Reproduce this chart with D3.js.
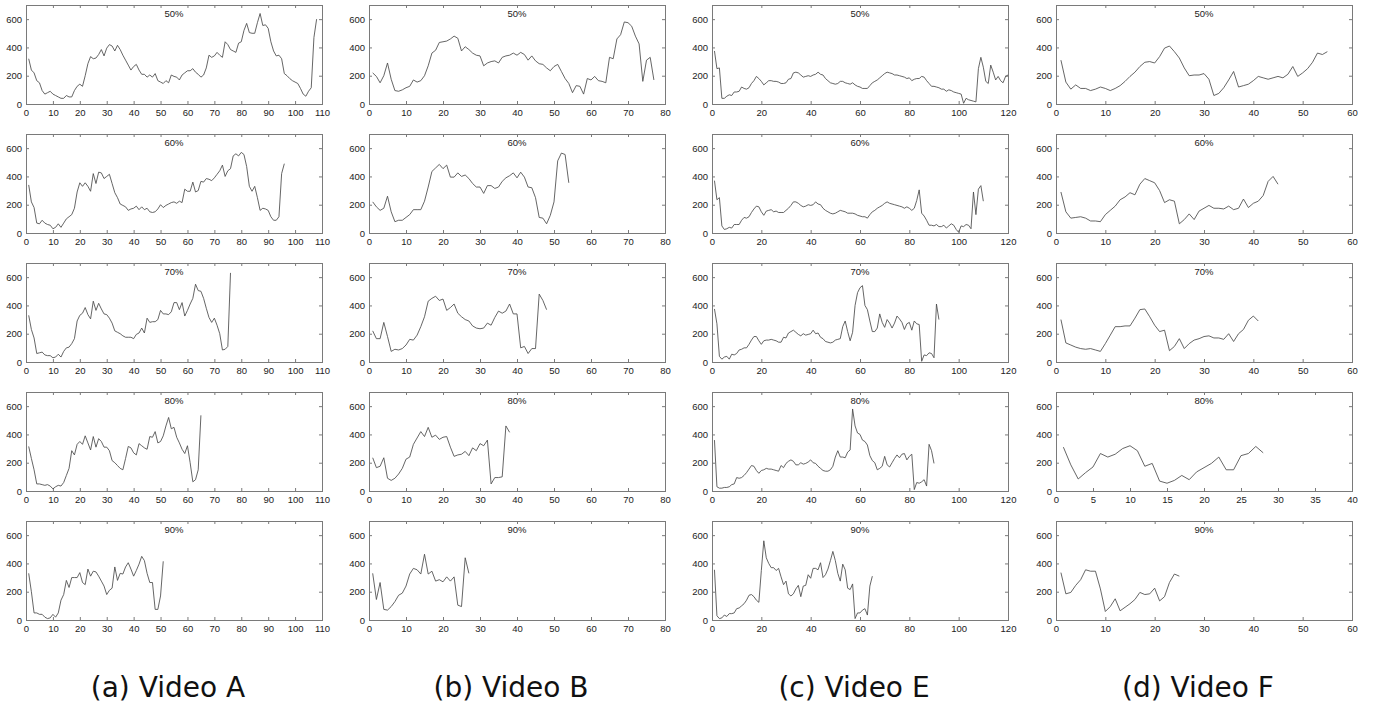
<!DOCTYPE html>
<html>
<head>
<meta charset="utf-8">
<script src="https://cdn.jsdelivr.net/npm/d3@7"></script>
<style>
  body { margin: 0; background: #fff; }
  svg text { font-family: "Liberation Sans", Arial, sans-serif; }
</style>
</head>
<body>
<svg id="chart" width="1374" height="707"></svg>
<script>
// Compression levels, one row of panels per level
const levels = ["50%", "60%", "70%", "80%", "90%"];

// Video A
const videoA_50 = [320,240,220,165,150,95,70,80,90,70,60,50,40,40,60,50,50,95,125,140,125,200,285,335,320,325,350,385,340,395,420,410,375,415,385,345,310,275,240,265,280,240,210,210,190,205,190,215,165,155,145,165,150,205,195,190,170,205,220,235,235,250,225,210,190,205,255,345,330,340,365,345,330,440,420,385,375,365,430,440,520,570,505,500,500,575,640,555,560,535,440,375,340,345,320,215,200,180,165,155,145,110,70,55,90,115,470,600];
const videoA_60 = [340,220,180,70,65,90,70,60,55,30,40,65,40,70,100,115,130,175,290,355,330,355,330,295,420,350,430,425,385,400,415,350,285,250,205,195,185,160,170,175,190,165,185,165,175,150,145,150,170,200,180,195,205,215,220,210,225,215,310,295,295,360,290,300,365,360,385,380,370,390,415,440,480,400,440,455,545,560,545,570,555,470,330,295,330,250,160,175,170,160,115,90,90,115,420,490];
const videoA_70 = [330,230,170,60,65,70,50,45,45,30,35,55,35,75,100,105,130,165,290,330,345,385,335,305,430,365,415,375,340,335,310,275,220,210,200,185,175,175,175,165,195,205,240,205,310,280,285,285,300,365,340,340,335,355,420,420,370,420,325,365,410,450,550,505,500,450,380,315,280,310,260,200,85,90,110,630];
const videoA_80 = [315,230,150,50,50,45,40,45,35,15,30,40,35,60,110,160,285,255,330,350,330,390,340,290,385,310,370,350,310,310,285,215,200,180,160,150,230,315,305,270,255,335,320,305,295,385,380,420,340,350,390,460,520,440,450,380,340,295,265,320,200,65,80,150,535];
const videoA_90 = [330,200,50,50,40,40,20,10,15,40,20,50,140,180,280,230,300,300,300,335,265,250,360,310,345,340,310,275,240,180,210,225,375,280,330,325,375,405,360,310,350,395,450,420,330,265,265,75,75,170,415];

// Video B
const videoB_50 = [220,195,150,200,290,175,95,90,100,115,125,170,155,165,200,270,360,380,435,440,445,460,480,465,375,405,385,360,345,340,270,290,300,305,290,330,340,345,360,345,365,350,310,340,305,285,280,255,235,265,280,230,180,145,80,130,125,70,180,170,195,165,160,150,330,320,460,490,580,575,550,480,425,160,310,330,170];
const videoB_60 = [220,185,160,175,260,150,80,90,90,110,130,165,165,165,225,325,435,460,485,455,480,395,395,425,400,410,385,350,325,325,280,335,335,315,325,365,390,405,425,390,430,395,325,320,250,110,105,65,125,220,510,565,555,355];
const videoB_70 = [220,165,165,280,180,75,90,85,95,120,160,155,190,250,320,430,450,465,435,445,365,385,410,345,320,300,290,255,240,235,240,275,260,315,360,345,360,410,340,340,100,110,60,95,95,480,435,370];
const videoB_80 = [235,165,175,235,90,75,90,120,160,225,240,330,375,420,385,450,380,395,365,380,385,310,245,255,260,280,250,305,285,335,320,360,50,95,95,100,460,415];
const videoB_90 = [330,145,265,75,70,95,130,175,190,240,325,365,355,325,465,325,345,275,285,270,305,275,305,105,95,440,330];

// Video E
const videoE_50 = [375,250,255,40,40,55,65,60,85,85,90,120,110,105,115,145,165,195,180,160,135,150,165,165,160,160,155,145,145,150,175,180,220,225,220,205,190,195,200,195,205,210,225,210,205,180,165,150,145,140,145,160,160,150,145,140,150,135,125,120,110,110,110,130,150,160,170,185,200,215,225,220,215,205,205,200,195,190,180,185,165,175,180,180,195,190,165,145,125,125,120,115,105,105,90,100,95,85,80,75,70,5,40,30,25,20,15,250,330,260,160,145,275,225,170,195,165,150,195,205];
const videoE_60 = [370,235,250,50,25,30,40,35,60,60,60,90,110,105,115,145,170,190,185,150,125,155,160,165,150,155,145,145,145,160,175,195,220,220,210,195,185,190,200,195,200,220,205,200,175,160,150,140,135,140,150,160,155,150,140,140,140,135,125,120,115,115,105,130,150,160,175,185,195,210,220,210,205,200,195,190,185,175,185,175,160,175,230,305,140,120,90,55,55,50,60,45,45,55,35,50,65,55,25,5,50,45,60,55,30,290,130,310,335,225];
const videoE_70 = [375,270,40,20,35,40,20,55,50,60,85,90,100,100,125,155,180,180,150,125,150,155,155,160,155,150,140,140,175,170,205,215,225,210,195,185,200,190,195,200,225,200,205,175,165,145,140,135,140,155,160,165,250,290,215,150,210,400,490,525,540,400,370,290,215,215,240,340,280,245,300,275,240,275,325,305,280,230,270,280,225,290,270,265,5,50,45,65,60,30,410,300];
const videoE_80 = [360,30,20,20,25,25,30,45,50,95,90,95,110,130,155,180,175,145,125,145,150,160,155,155,150,145,140,180,165,195,210,220,210,185,185,200,190,195,205,220,200,195,175,160,145,140,140,150,175,240,285,240,240,235,275,290,580,460,410,400,360,350,325,250,215,200,150,160,175,245,185,170,200,230,255,235,260,265,220,245,260,10,60,55,65,80,35,330,285,195];
const videoE_90 = [355,30,10,15,35,25,45,45,50,80,85,100,115,140,175,180,165,140,125,350,560,440,400,370,370,350,365,305,250,275,185,170,185,220,245,165,240,245,320,295,365,365,355,405,300,320,360,420,485,420,330,275,395,355,225,215,255,10,50,50,70,80,35,240,310];

// Video F
const videoF_50 = [310,155,105,135,110,110,95,105,120,110,95,110,130,160,195,225,265,295,300,290,335,395,410,370,325,255,200,205,205,215,175,60,75,115,170,230,120,130,140,165,195,185,175,185,195,185,210,265,195,220,250,295,360,350,370];
const videoF_60 = [290,150,105,110,115,105,85,85,80,130,160,190,235,255,285,270,345,385,370,355,300,215,235,225,65,95,135,95,155,175,195,175,175,170,190,165,175,240,180,210,225,265,365,400,345];
const videoF_70 = [300,135,120,105,95,90,95,85,75,130,190,250,250,255,255,310,370,375,320,260,215,225,80,110,165,95,130,155,165,180,185,170,170,160,200,145,200,230,295,325,290];
const videoF_80 = [310,185,85,130,170,265,240,260,300,320,285,175,195,70,55,75,110,80,135,165,195,240,150,150,250,265,315,270];
const videoF_90 = [335,185,195,245,285,355,345,345,220,60,95,150,65,90,115,145,195,180,185,225,135,165,265,325,310];

// Axis extents and tick labels per video
const xMaxA = [110, 110, 110, 110, 110];
const xMaxB = [80, 80, 80, 80, 80];
const xMaxE = [120, 120, 120, 120, 120];
const xMaxF = [60, 60, 60, 40, 60];
const xTicks10to110 = [0,10,20,30,40,50,60,70,80,90,100,110];
const xTicks10to80 = [0,10,20,30,40,50,60,70,80];
const xTicks20to120 = [0,20,40,60,80,100,120];
const xTicks10to60 = [0,10,20,30,40,50,60];
const xTicks5to40 = [0,5,10,15,20,25,30,35,40];
const yTicks = [0, 200, 400, 600];
const yMax = 700;

const captions = ["(a) Video A", "(b) Video B", "(c) Video E", "(d) Video F"];

const videos = [
  { caption: captions[0], xMax: xMaxA, ticks: [xTicks10to110, xTicks10to110, xTicks10to110, xTicks10to110, xTicks10to110],
    series: [videoA_50, videoA_60, videoA_70, videoA_80, videoA_90] },
  { caption: captions[1], xMax: xMaxB, ticks: [xTicks10to80, xTicks10to80, xTicks10to80, xTicks10to80, xTicks10to80],
    series: [videoB_50, videoB_60, videoB_70, videoB_80, videoB_90] },
  { caption: captions[2], xMax: xMaxE, ticks: [xTicks20to120, xTicks20to120, xTicks20to120, xTicks20to120, xTicks20to120],
    series: [videoE_50, videoE_60, videoE_70, videoE_80, videoE_90] },
  { caption: captions[3], xMax: xMaxF, ticks: [xTicks10to60, xTicks10to60, xTicks10to60, xTicks5to40, xTicks10to60],
    series: [videoF_50, videoF_60, videoF_70, videoF_80, videoF_90] }
];

// Grid geometry
const colLeft = [26, 369, 712, 1056];
const rowTop = [5, 134, 263, 392, 521];
const plotW = 296, plotH = 99;
const frameColor = "#7a7a7a";
const textColor = "#222";

const svg = d3.select("#chart");

videos.forEach((video, c) => {
  video.series.forEach((values, r) => {
    const g = svg.append("g").attr("transform", `translate(${colLeft[c]},${rowTop[r]})`);
    const x = d3.scaleLinear().domain([0, video.xMax[r]]).range([0, plotW]);
    const y = d3.scaleLinear().domain([0, yMax]).range([plotH, 0]);
    const tv = video.ticks[r];

    const styleAxis = sel => {
      sel.select(".domain").remove();
      sel.selectAll(".tick line").attr("stroke", frameColor);
      sel.selectAll(".tick text").attr("fill", textColor).style("font-size", "9.5px");
    };

    g.append("g").attr("transform", `translate(0,${plotH})`)
      .call(d3.axisBottom(x).tickValues(tv).tickSize(-3).tickSizeOuter(0).tickPadding(5).tickFormat(d3.format("d")))
      .call(styleAxis);
    g.append("g")
      .call(d3.axisTop(x).tickValues(tv).tickSize(-3).tickSizeOuter(0).tickFormat(""))
      .call(styleAxis);
    g.append("g")
      .call(d3.axisLeft(y).tickValues(yTicks).tickSize(-3).tickSizeOuter(0).tickPadding(4).tickFormat(d3.format("d")))
      .call(styleAxis);
    g.append("g").attr("transform", `translate(${plotW},0)`)
      .call(d3.axisRight(y).tickValues(yTicks).tickSize(-3).tickSizeOuter(0).tickFormat(""))
      .call(styleAxis);

    g.append("rect")
      .attr("x", 0.5).attr("y", 0.5)
      .attr("width", plotW).attr("height", plotH)
      .attr("fill", "none").attr("stroke", frameColor).attr("stroke-width", 1);

    const line = d3.line().x((d, i) => x(i + 1)).y(d => y(d));
    g.append("path").datum(values)
      .attr("d", line)
      .attr("fill", "none")
      .attr("stroke", "#4a4a4a")
      .attr("stroke-width", 0.85)
      .attr("stroke-linejoin", "round");

    g.append("text")
      .attr("x", plotW / 2).attr("y", 11.5)
      .attr("text-anchor", "middle")
      .attr("fill", textColor)
      .style("font-size", "9.5px")
      .text(levels[r]);
  });

  svg.append("text")
    .attr("x", colLeft[c] + plotW / 2 - 6)
    .attr("y", 697)
    .attr("text-anchor", "middle")
    .attr("fill", "#111")
    .style("font-family", "'DejaVu Sans', sans-serif")
    .style("font-size", "28px")
    .text(video.caption);
});
</script>
</body>
</html>
